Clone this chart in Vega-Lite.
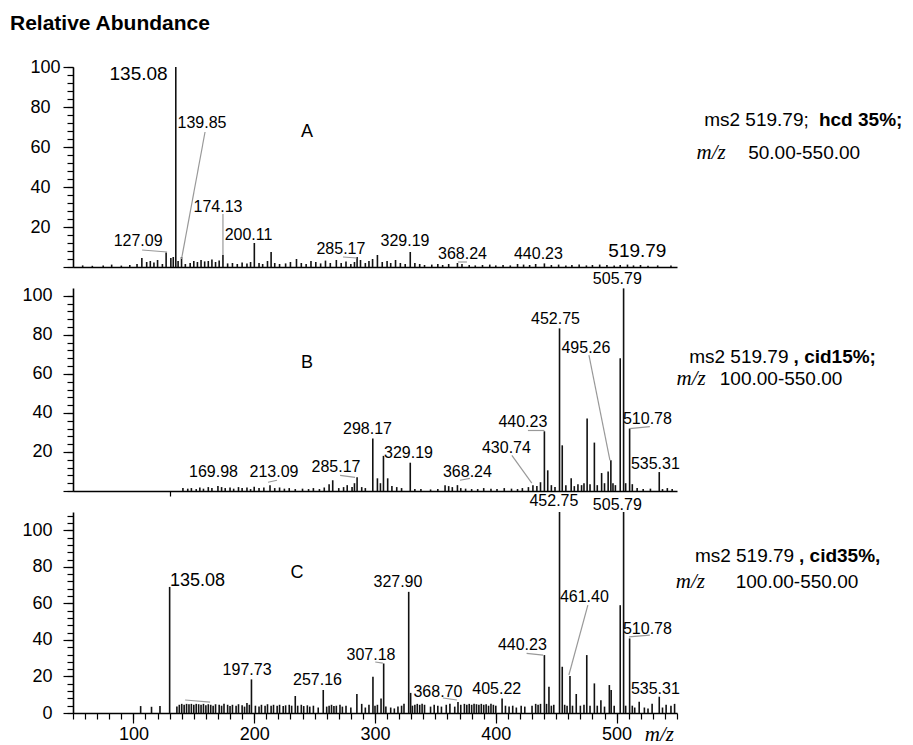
{
  "$schema": "https://vega.github.io/schema/vega-lite/v6.json",
  "autosize": {"type": "pad"},
  "padding": {"left": 10, "top": 13, "right": 5, "bottom": 0},
  "title": {"text": "Relative Abundance", "anchor": "start", "frame": "group", "dx": -63, "offset": 24, "fontSize": 21, "fontWeight": "bold", "font": "Liberation Sans", "color": "#000000"},
  "config": {
    "view": {"stroke": null},
    "font": "Liberation Sans",
    "text": {"font": "Liberation Sans", "color": "#000000"},
    "axis": {"grid": false, "labelFont": "Liberation Sans", "labelFontSize": 18, "labelColor": "#000000", "tickColor": "#000000", "domainColor": "#000000", "labelFlush": false, "labelOverlap": false, "tickWidth": 1.2, "domainWidth": 1.6, "title": null}
  },
  "bounds": "flush",
  "spacing": 21,
  "datasets": {
    "peaks": [
      {"panel":"A","mz":58,"abundance":0.8},{"panel":"A","mz":66,"abundance":0.6},{"panel":"A","mz":75,"abundance":0.8},{"panel":"A","mz":82,"abundance":1.2},{"panel":"A","mz":90,"abundance":0.7},{"panel":"A","mz":97,"abundance":1.0},{"panel":"A","mz":103,"abundance":1.5},{"panel":"A","mz":107,"abundance":4.5},{"panel":"A","mz":111,"abundance":2.5},{"panel":"A","mz":114,"abundance":3.0},{"panel":"A","mz":117,"abundance":2.2},{"panel":"A","mz":120,"abundance":3.5},{"panel":"A","mz":124,"abundance":1.5},{"panel":"A","mz":127.09,"abundance":7.3},{"panel":"A","mz":131,"abundance":4.5},{"panel":"A","mz":133,"abundance":5.0},{"panel":"A","mz":135.08,"abundance":100},{"panel":"A","mz":137,"abundance":3.0},{"panel":"A","mz":139.85,"abundance":5.0},{"panel":"A","mz":143,"abundance":1.5},{"panel":"A","mz":147,"abundance":2.0},{"panel":"A","mz":150,"abundance":3.0},{"panel":"A","mz":153,"abundance":2.5},{"panel":"A","mz":156,"abundance":3.5},{"panel":"A","mz":159,"abundance":2.8},{"panel":"A","mz":162,"abundance":3.0},{"panel":"A","mz":165,"abundance":3.8},{"panel":"A","mz":168,"abundance":2.5},{"panel":"A","mz":171,"abundance":3.2},{"panel":"A","mz":174.13,"abundance":6.0},{"panel":"A","mz":178,"abundance":1.8},{"panel":"A","mz":182,"abundance":2.0},{"panel":"A","mz":186,"abundance":1.5},{"panel":"A","mz":190,"abundance":2.2},{"panel":"A","mz":194,"abundance":1.8},{"panel":"A","mz":197,"abundance":2.5},{"panel":"A","mz":200.11,"abundance":12},{"panel":"A","mz":204,"abundance":2.0},{"panel":"A","mz":207,"abundance":1.5},{"panel":"A","mz":211,"abundance":3.0},{"panel":"A","mz":214,"abundance":7.5},{"panel":"A","mz":217,"abundance":2.0},{"panel":"A","mz":221,"abundance":1.5},{"panel":"A","mz":226,"abundance":1.8},{"panel":"A","mz":230,"abundance":2.5},{"panel":"A","mz":235,"abundance":4.0},{"panel":"A","mz":239,"abundance":2.0},{"panel":"A","mz":243,"abundance":1.5},{"panel":"A","mz":247,"abundance":3.0},{"panel":"A","mz":251,"abundance":2.5},{"panel":"A","mz":255,"abundance":1.8},{"panel":"A","mz":259,"abundance":3.2},{"panel":"A","mz":263,"abundance":2.0},{"panel":"A","mz":268,"abundance":3.5},{"panel":"A","mz":272,"abundance":2.0},{"panel":"A","mz":276,"abundance":2.8},{"panel":"A","mz":280,"abundance":1.5},{"panel":"A","mz":283,"abundance":2.5},{"panel":"A","mz":285.17,"abundance":5.0},{"panel":"A","mz":288,"abundance":3.5},{"panel":"A","mz":292,"abundance":2.0},{"panel":"A","mz":295,"abundance":3.0},{"panel":"A","mz":298,"abundance":4.0},{"panel":"A","mz":302,"abundance":6.0},{"panel":"A","mz":306,"abundance":2.5},{"panel":"A","mz":310,"abundance":3.0},{"panel":"A","mz":313,"abundance":2.0},{"panel":"A","mz":317,"abundance":3.5},{"panel":"A","mz":321,"abundance":2.0},{"panel":"A","mz":325,"abundance":1.5},{"panel":"A","mz":329.19,"abundance":7.5},{"panel":"A","mz":333,"abundance":2.0},{"panel":"A","mz":337,"abundance":1.5},{"panel":"A","mz":341,"abundance":1.0},{"panel":"A","mz":347,"abundance":1.2},{"panel":"A","mz":352,"abundance":1.5},{"panel":"A","mz":356,"abundance":1.0},{"panel":"A","mz":361,"abundance":1.5},{"panel":"A","mz":368.24,"abundance":2.0},{"panel":"A","mz":372,"abundance":1.5},{"panel":"A","mz":378,"abundance":1.0},{"panel":"A","mz":383,"abundance":0.8},{"panel":"A","mz":389,"abundance":1.0},{"panel":"A","mz":395,"abundance":1.2},{"panel":"A","mz":400,"abundance":0.8},{"panel":"A","mz":406,"abundance":1.0},{"panel":"A","mz":412,"abundance":0.8},{"panel":"A","mz":418,"abundance":1.5},{"panel":"A","mz":423,"abundance":1.2},{"panel":"A","mz":428,"abundance":1.0},{"panel":"A","mz":433,"abundance":1.5},{"panel":"A","mz":440.23,"abundance":1.8},{"panel":"A","mz":446,"abundance":1.0},{"panel":"A","mz":452,"abundance":1.2},{"panel":"A","mz":458,"abundance":0.8},{"panel":"A","mz":463,"abundance":1.0},{"panel":"A","mz":469,"abundance":1.2},{"panel":"A","mz":475,"abundance":0.8},{"panel":"A","mz":480,"abundance":1.0},{"panel":"A","mz":486,"abundance":1.2},{"panel":"A","mz":492,"abundance":1.0},{"panel":"A","mz":498,"abundance":0.8},{"panel":"A","mz":503,"abundance":1.0},{"panel":"A","mz":509,"abundance":1.2},{"panel":"A","mz":514,"abundance":0.8},{"panel":"A","mz":519.79,"abundance":1.0},{"panel":"A","mz":526,"abundance":0.6},{"panel":"A","mz":534,"abundance":0.8},{"panel":"A","mz":545,"abundance":0.7},
      {"panel":"B","mz":141,"abundance":1.5},{"panel":"B","mz":145,"abundance":1.2},{"panel":"B","mz":148,"abundance":1.5},{"panel":"B","mz":152,"abundance":1.0},{"panel":"B","mz":155,"abundance":1.8},{"panel":"B","mz":158,"abundance":1.2},{"panel":"B","mz":162,"abundance":2.0},{"panel":"B","mz":165,"abundance":1.5},{"panel":"B","mz":169.98,"abundance":2.5},{"panel":"B","mz":173,"abundance":2.0},{"panel":"B","mz":176,"abundance":1.5},{"panel":"B","mz":180,"abundance":1.8},{"panel":"B","mz":183,"abundance":1.2},{"panel":"B","mz":187,"abundance":2.0},{"panel":"B","mz":190,"abundance":1.5},{"panel":"B","mz":194,"abundance":1.8},{"panel":"B","mz":197,"abundance":1.0},{"panel":"B","mz":200,"abundance":2.2},{"panel":"B","mz":204,"abundance":1.5},{"panel":"B","mz":208,"abundance":1.8},{"panel":"B","mz":213.09,"abundance":3.0},{"panel":"B","mz":217,"abundance":1.5},{"panel":"B","mz":221,"abundance":1.8},{"panel":"B","mz":225,"abundance":1.2},{"panel":"B","mz":229,"abundance":1.5},{"panel":"B","mz":234,"abundance":1.0},{"panel":"B","mz":240,"abundance":1.2},{"panel":"B","mz":245,"abundance":1.0},{"panel":"B","mz":249,"abundance":1.5},{"panel":"B","mz":254,"abundance":1.0},{"panel":"B","mz":258,"abundance":1.8},{"panel":"B","mz":262,"abundance":3.5},{"panel":"B","mz":265,"abundance":5.5},{"panel":"B","mz":270,"abundance":1.5},{"panel":"B","mz":274,"abundance":2.0},{"panel":"B","mz":277,"abundance":3.0},{"panel":"B","mz":281,"abundance":2.0},{"panel":"B","mz":283,"abundance":4.0},{"panel":"B","mz":285.17,"abundance":7.0},{"panel":"B","mz":289,"abundance":2.0},{"panel":"B","mz":292,"abundance":1.5},{"panel":"B","mz":298.17,"abundance":26.9},{"panel":"B","mz":302,"abundance":6.5},{"panel":"B","mz":304.5,"abundance":4.0},{"panel":"B","mz":307,"abundance":18},{"panel":"B","mz":310.5,"abundance":6.5},{"panel":"B","mz":314,"abundance":2.5},{"panel":"B","mz":318,"abundance":2.0},{"panel":"B","mz":322,"abundance":1.5},{"panel":"B","mz":329.19,"abundance":14.5},{"panel":"B","mz":333,"abundance":1.0},{"panel":"B","mz":338,"abundance":1.0},{"panel":"B","mz":346,"abundance":0.8},{"panel":"B","mz":352,"abundance":1.0},{"panel":"B","mz":358,"abundance":3.0},{"panel":"B","mz":361,"abundance":2.5},{"panel":"B","mz":364,"abundance":2.0},{"panel":"B","mz":368.24,"abundance":3.0},{"panel":"B","mz":371,"abundance":1.5},{"panel":"B","mz":375,"abundance":1.2},{"panel":"B","mz":380,"abundance":1.0},{"panel":"B","mz":385,"abundance":1.0},{"panel":"B","mz":390,"abundance":1.5},{"panel":"B","mz":396,"abundance":1.2},{"panel":"B","mz":401,"abundance":1.0},{"panel":"B","mz":407,"abundance":1.5},{"panel":"B","mz":413,"abundance":1.2},{"panel":"B","mz":418,"abundance":1.0},{"panel":"B","mz":422,"abundance":1.5},{"panel":"B","mz":427,"abundance":2.0},{"panel":"B","mz":430.74,"abundance":3.0},{"panel":"B","mz":434,"abundance":2.5},{"panel":"B","mz":437,"abundance":4.5},{"panel":"B","mz":440.23,"abundance":30.6},{"panel":"B","mz":443,"abundance":10.6},{"panel":"B","mz":446,"abundance":3.0},{"panel":"B","mz":449,"abundance":2.0},{"panel":"B","mz":452.75,"abundance":83.3},{"panel":"B","mz":455,"abundance":23.4},{"panel":"B","mz":458,"abundance":3.0},{"panel":"B","mz":462.4,"abundance":6.5},{"panel":"B","mz":465,"abundance":2.5},{"panel":"B","mz":468,"abundance":3.5},{"panel":"B","mz":471,"abundance":3.0},{"panel":"B","mz":473,"abundance":4.0},{"panel":"B","mz":475.6,"abundance":37.1},{"panel":"B","mz":478,"abundance":3.5},{"panel":"B","mz":481.6,"abundance":24.8},{"panel":"B","mz":484,"abundance":3.0},{"panel":"B","mz":487.6,"abundance":9.2},{"panel":"B","mz":490,"abundance":4.0},{"panel":"B","mz":493,"abundance":10.0},{"panel":"B","mz":495.26,"abundance":15.7},{"panel":"B","mz":497,"abundance":4.0},{"panel":"B","mz":499,"abundance":3.0},{"panel":"B","mz":503,"abundance":68.0},{"panel":"B","mz":505.79,"abundance":103.8},{"panel":"B","mz":507.5,"abundance":4.0},{"panel":"B","mz":510.78,"abundance":32.0},{"panel":"B","mz":513,"abundance":3.5},{"panel":"B","mz":517,"abundance":1.5},{"panel":"B","mz":522,"abundance":1.0},{"panel":"B","mz":528,"abundance":1.2},{"panel":"B","mz":535.31,"abundance":9.7},{"panel":"B","mz":538,"abundance":1.0},{"panel":"B","mz":542,"abundance":1.5},{"panel":"B","mz":546,"abundance":1.0},
      {"panel":"C","mz":106,"abundance":3.8},{"panel":"C","mz":115,"abundance":3.4},{"panel":"C","mz":122,"abundance":3.8},{"panel":"C","mz":130,"abundance":69},{"panel":"C","mz":136,"abundance":3.5},{"panel":"C","mz":138,"abundance":4.5},{"panel":"C","mz":140,"abundance":5.0},{"panel":"C","mz":142,"abundance":4.5},{"panel":"C","mz":144,"abundance":5.0},{"panel":"C","mz":146,"abundance":4.8},{"panel":"C","mz":148,"abundance":5.0},{"panel":"C","mz":150,"abundance":4.5},{"panel":"C","mz":152,"abundance":5.0},{"panel":"C","mz":154,"abundance":4.8},{"panel":"C","mz":156,"abundance":4.5},{"panel":"C","mz":158,"abundance":5.0},{"panel":"C","mz":160,"abundance":4.2},{"panel":"C","mz":162,"abundance":4.8},{"panel":"C","mz":164,"abundance":4.5},{"panel":"C","mz":166,"abundance":4.0},{"panel":"C","mz":168,"abundance":4.8},{"panel":"C","mz":171,"abundance":4.5},{"panel":"C","mz":173,"abundance":4.0},{"panel":"C","mz":175,"abundance":5.0},{"panel":"C","mz":178,"abundance":4.5},{"panel":"C","mz":180,"abundance":3.8},{"panel":"C","mz":182,"abundance":4.5},{"panel":"C","mz":185,"abundance":4.0},{"panel":"C","mz":187,"abundance":4.8},{"panel":"C","mz":190,"abundance":4.2},{"panel":"C","mz":192,"abundance":3.5},{"panel":"C","mz":194,"abundance":5.5},{"panel":"C","mz":196,"abundance":4.5},{"panel":"C","mz":197.73,"abundance":18.4},{"panel":"C","mz":201,"abundance":4.0},{"panel":"C","mz":204,"abundance":3.5},{"panel":"C","mz":206,"abundance":4.5},{"panel":"C","mz":209,"abundance":4.0},{"panel":"C","mz":211,"abundance":4.8},{"panel":"C","mz":214,"abundance":4.0},{"panel":"C","mz":216,"abundance":4.5},{"panel":"C","mz":219,"abundance":4.0},{"panel":"C","mz":221,"abundance":4.5},{"panel":"C","mz":224,"abundance":3.8},{"panel":"C","mz":226,"abundance":4.2},{"panel":"C","mz":229,"abundance":4.5},{"panel":"C","mz":231,"abundance":4.0},{"panel":"C","mz":234,"abundance":9.3},{"panel":"C","mz":236,"abundance":4.0},{"panel":"C","mz":239,"abundance":4.5},{"panel":"C","mz":241,"abundance":3.8},{"panel":"C","mz":244,"abundance":4.2},{"panel":"C","mz":246,"abundance":3.5},{"panel":"C","mz":249,"abundance":4.0},{"panel":"C","mz":253,"abundance":3.0},{"panel":"C","mz":257.16,"abundance":12.6},{"panel":"C","mz":260,"abundance":3.5},{"panel":"C","mz":262,"abundance":4.0},{"panel":"C","mz":264,"abundance":4.5},{"panel":"C","mz":266,"abundance":3.8},{"panel":"C","mz":268,"abundance":4.0},{"panel":"C","mz":271,"abundance":4.5},{"panel":"C","mz":273,"abundance":3.5},{"panel":"C","mz":276,"abundance":4.0},{"panel":"C","mz":280,"abundance":3.0},{"panel":"C","mz":285,"abundance":10.4},{"panel":"C","mz":289,"abundance":5.0},{"panel":"C","mz":292,"abundance":3.0},{"panel":"C","mz":295,"abundance":4.5},{"panel":"C","mz":298.3,"abundance":19.8},{"panel":"C","mz":300,"abundance":4.0},{"panel":"C","mz":302,"abundance":4.5},{"panel":"C","mz":305,"abundance":8.0},{"panel":"C","mz":307.18,"abundance":27.1},{"panel":"C","mz":309,"abundance":3.5},{"panel":"C","mz":313,"abundance":3.0},{"panel":"C","mz":316,"abundance":2.5},{"panel":"C","mz":319,"abundance":3.5},{"panel":"C","mz":322,"abundance":4.0},{"panel":"C","mz":324,"abundance":5.0},{"panel":"C","mz":327.9,"abundance":66.3},{"panel":"C","mz":329.5,"abundance":11},{"panel":"C","mz":331,"abundance":4.0},{"panel":"C","mz":333,"abundance":4.5},{"panel":"C","mz":335,"abundance":5.0},{"panel":"C","mz":337,"abundance":4.5},{"panel":"C","mz":339,"abundance":5.0},{"panel":"C","mz":341,"abundance":4.5},{"panel":"C","mz":346,"abundance":3.5},{"panel":"C","mz":349,"abundance":4.5},{"panel":"C","mz":352,"abundance":4.0},{"panel":"C","mz":355,"abundance":3.5},{"panel":"C","mz":359,"abundance":4.5},{"panel":"C","mz":362,"abundance":5.0},{"panel":"C","mz":366,"abundance":3.5},{"panel":"C","mz":368.7,"abundance":6.0},{"panel":"C","mz":371,"abundance":4.5},{"panel":"C","mz":374,"abundance":5.0},{"panel":"C","mz":376,"abundance":4.5},{"panel":"C","mz":378,"abundance":5.0},{"panel":"C","mz":380,"abundance":4.5},{"panel":"C","mz":382,"abundance":5.0},{"panel":"C","mz":384,"abundance":4.8},{"panel":"C","mz":386,"abundance":4.5},{"panel":"C","mz":388,"abundance":5.0},{"panel":"C","mz":390,"abundance":4.5},{"panel":"C","mz":392,"abundance":4.8},{"panel":"C","mz":394,"abundance":4.0},{"panel":"C","mz":396,"abundance":5.0},{"panel":"C","mz":398,"abundance":4.5},{"panel":"C","mz":400,"abundance":4.0},{"panel":"C","mz":405.22,"abundance":8.0},{"panel":"C","mz":408,"abundance":4.0},{"panel":"C","mz":411,"abundance":3.5},{"panel":"C","mz":414,"abundance":4.0},{"panel":"C","mz":417,"abundance":3.0},{"panel":"C","mz":421,"abundance":4.0},{"panel":"C","mz":424,"abundance":3.5},{"panel":"C","mz":430,"abundance":4.0},{"panel":"C","mz":433,"abundance":5.0},{"panel":"C","mz":435,"abundance":4.5},{"panel":"C","mz":437,"abundance":5.0},{"panel":"C","mz":440.23,"abundance":31.7},{"panel":"C","mz":442,"abundance":5.0},{"panel":"C","mz":444,"abundance":14.4},{"panel":"C","mz":446,"abundance":4.0},{"panel":"C","mz":448,"abundance":4.5},{"panel":"C","mz":452.75,"abundance":110},{"panel":"C","mz":455,"abundance":25.3},{"panel":"C","mz":457,"abundance":4.5},{"panel":"C","mz":459,"abundance":4.0},{"panel":"C","mz":461.4,"abundance":20.2},{"panel":"C","mz":463.5,"abundance":4.0},{"panel":"C","mz":466.6,"abundance":10.4},{"panel":"C","mz":470,"abundance":4.0},{"panel":"C","mz":473,"abundance":4.5},{"panel":"C","mz":475.3,"abundance":31.7},{"panel":"C","mz":478,"abundance":4.0},{"panel":"C","mz":481.6,"abundance":16.2},{"panel":"C","mz":484,"abundance":4.0},{"panel":"C","mz":487,"abundance":7.0},{"panel":"C","mz":490,"abundance":3.5},{"panel":"C","mz":494,"abundance":15.3},{"panel":"C","mz":495.5,"abundance":12.6},{"panel":"C","mz":498,"abundance":4.0},{"panel":"C","mz":503,"abundance":59},{"panel":"C","mz":505.79,"abundance":110},{"panel":"C","mz":507.5,"abundance":4.0},{"panel":"C","mz":510.78,"abundance":40.8},{"panel":"C","mz":513,"abundance":4.0},{"panel":"C","mz":515,"abundance":3.0},{"panel":"C","mz":518.7,"abundance":6.2},{"panel":"C","mz":523,"abundance":3.0},{"panel":"C","mz":526,"abundance":2.5},{"panel":"C","mz":529.4,"abundance":5.0},{"panel":"C","mz":535.31,"abundance":8.9},{"panel":"C","mz":538,"abundance":3.0},{"panel":"C","mz":541,"abundance":4.5},{"panel":"C","mz":545,"abundance":4.0},{"panel":"C","mz":548,"abundance":5.0}
    ],
    "labels": [
      {"panel":"A","text":"135.08","lx":104.3,"ly":96.5},{"panel":"A","text":"139.85","lx":156.8,"ly":72},{"panel":"A","text":"174.13","lx":170,"ly":30},{"panel":"A","text":"127.09","lx":103.9,"ly":13},{"panel":"A","text":"200.11","lx":195.3,"ly":16},{"panel":"A","text":"285.17","lx":271.8,"ly":9},{"panel":"A","text":"329.19","lx":324.8,"ly":13},{"panel":"A","text":"368.24","lx":372.4,"ly":6.5},{"panel":"A","text":"440.23","lx":435.3,"ly":6.5},{"panel":"A","text":"519.79","lx":517.2,"ly":8},
      {"panel":"B","text":"298.17","lx":293.8,"ly":32},{"panel":"B","text":"329.19","lx":327.7,"ly":19.3},{"panel":"B","text":"285.17","lx":267.7,"ly":12.2},{"panel":"B","text":"213.09","lx":216.4,"ly":9.6},{"panel":"B","text":"169.98","lx":166.3,"ly":9.6},{"panel":"B","text":"368.24","lx":376.5,"ly":9.8},{"panel":"B","text":"430.74","lx":408.8,"ly":22.2},{"panel":"B","text":"440.23","lx":422.4,"ly":35.2},{"panel":"B","text":"452.75","lx":449.4,"ly":88},{"panel":"B","text":"495.26","lx":474.6,"ly":73.4},{"panel":"B","text":"505.79","lx":500.6,"ly":108.6},{"panel":"B","text":"510.78","lx":525.5,"ly":37},{"panel":"B","text":"535.31","lx":532.1,"ly":14},
      {"panel":"C","text":"135.08","lx":153.1,"ly":72.4},{"panel":"C","text":"197.73","lx":194.1,"ly":23.5},{"panel":"C","text":"257.16","lx":252.4,"ly":18},{"panel":"C","text":"307.18","lx":296.7,"ly":31.7},{"panel":"C","text":"327.90","lx":319,"ly":71.9},{"panel":"C","text":"368.70","lx":352.1,"ly":11.7},{"panel":"C","text":"405.22","lx":400.8,"ly":13.1},{"panel":"C","text":"440.23","lx":422,"ly":37.2},{"panel":"C","text":"452.75","lx":448.1,"ly":115.8},{"panel":"C","text":"461.40","lx":473.3,"ly":63.7},{"panel":"C","text":"505.79","lx":500.6,"ly":113.7},{"panel":"C","text":"510.78","lx":525.5,"ly":46.2},{"panel":"C","text":"535.31","lx":532.1,"ly":13.4}
    ],
    "leaders": [
      {"panel":"A","x1":159.3,"y1":67.5,"x2":139.85,"y2":4},{"panel":"A","x1":174.13,"y1":6,"x2":174.13,"y2":26.5},{"panel":"A","x1":107.2,"y1":8.5,"x2":127.9,"y2":7.5},{"panel":"A","x1":273.5,"y1":5,"x2":285.1,"y2":4.5},{"panel":"A","x1":368.6,"y1":2.5,"x2":376.1,"y2":2.5},
      {"panel":"B","x1":271.1,"y1":8,"x2":283.5,"y2":7},{"panel":"B","x1":211.4,"y1":4.5,"x2":218.9,"y2":5.5},{"panel":"B","x1":370.3,"y1":5.5,"x2":378.6,"y2":6.5},{"panel":"B","x1":413.3,"y1":18.3,"x2":429.8,"y2":4},{"panel":"B","x1":426.6,"y1":31,"x2":440.23,"y2":31},{"panel":"B","x1":477.1,"y1":69.6,"x2":494.5,"y2":15.7},{"panel":"B","x1":510.78,"y1":32,"x2":527.5,"y2":33},
      {"panel":"C","x1":142.8,"y1":7.1,"x2":163.5,"y2":6},{"panel":"C","x1":300.2,"y1":27.9,"x2":306.5,"y2":27.3},{"panel":"C","x1":356.2,"y1":8.2,"x2":367.8,"y2":7.1},{"panel":"C","x1":425.5,"y1":32.6,"x2":439.2,"y2":31.7},{"panel":"C","x1":476.2,"y1":59,"x2":460.5,"y2":20.8},{"panel":"C","x1":510.2,"y1":41.7,"x2":527.5,"y2":42.6}
    ],
    "notes": [
      {"panel":"A","part":"letter","text":"A","nx":243.7,"ny":67.5},
      {"panel":"A","part":"scan","text":"ms2 519.79;","nx":572.5,"ny":70.5},
      {"panel":"A","part":"energy","text":"hcd 35%;","nx":667.5,"ny":70.5},
      {"panel":"A","part":"unit","text":"m/z","nx":566.2,"ny":53.9},
      {"panel":"A","part":"range","text":"50.00-550.00","nx":608.9,"ny":53.9},
      {"panel":"B","part":"letter","text":"B","nx":243.7,"ny":65.5},
      {"panel":"B","part":"scan","text":"ms2 519.79","nx":560.1,"ny":65.6},
      {"panel":"B","part":"energy","text":", cid15%;","nx":646.5,"ny":65.6},
      {"panel":"B","part":"unit","text":"m/z","nx":549.6,"ny":54.4},
      {"panel":"B","part":"range","text":"100.00-550.00","nx":585.4,"ny":54.4},
      {"panel":"C","part":"letter","text":"C","nx":235.4,"ny":76.5},
      {"panel":"C","part":"scan","text":"ms2 519.79","nx":564.8,"ny":82.7},
      {"panel":"C","part":"energy","text":", cid35%,","nx":651,"ny":82.7},
      {"panel":"C","part":"unit","text":"m/z","nx":549.0,"ny":68.4},
      {"panel":"C","part":"range","text":"100.00-550.00","nx":598.6,"ny":68.4},
      {"panel":"C","part":"unit","text":"m/z","nx":523.3,"ny":-15.5}
    ]
  },
  "vconcat": [
    {
      "width": 604, "height": 200,
      "resolve": {"axis": {"x": "independent", "y": "independent"}},
      "layer": [
        {"data": {"name": "peaks"}, "transform": [{"filter": "datum.panel === 'A'"}],
         "mark": {"type": "rule", "color": "#111111", "strokeWidth": 1.6},
         "encoding": {
           "x": {"field": "mz", "type": "quantitative", "scale": {"domain": [50, 550], "nice": false}, "axis": {"orient": "bottom", "labels": false, "ticks": false, "domain": true}},
           "y": {"field": "abundance", "type": "quantitative", "scale": {"domain": [0, 100], "nice": false}, "axis": {"orient": "left", "values": [0,4,8,12,16,20,24,28,32,36,40,44,48,52,56,60,64,68,72,76,80,84,88,92,96,100], "labels": false, "tickSize": 6, "domain": true}},
           "y2": {"datum": 0}}},
        {"data": {"name": "labels"}, "transform": [{"filter": "datum.panel === 'A'"}],
         "mark": {"type": "text", "align": "center", "baseline": "middle"},
         "encoding": {
           "x": {"field": "lx", "type": "quantitative", "scale": {"domain": [50, 550], "nice": false}, "axis": null},
           "y": {"field": "ly", "type": "quantitative", "scale": {"domain": [0, 100], "nice": false}, "axis": {"orient": "left", "values": [0,20,40,60,80,100], "tickSize": 10, "labelPadding": 33, "labelAlign": "left", "labelExpr": "datum.value === 0 ? '' : datum.label", "domain": false}},
           "text": {"field": "text"},
           "size": {"condition": {"test": "datum.text === '135.08' || datum.text === '519.79'", "value": 19}, "value": 16}}},
        {"data": {"name": "leaders"}, "transform": [{"filter": "datum.panel === 'A'"}],
         "mark": {"type": "rule", "color": "#999999", "strokeWidth": 1.2},
         "encoding": {
           "x": {"field": "x1", "type": "quantitative", "scale": {"domain": [50, 550], "nice": false}, "axis": null},
           "x2": {"field": "x2"},
           "y": {"field": "y1", "type": "quantitative", "scale": {"domain": [0, 100], "nice": false}, "axis": null},
           "y2": {"field": "y2"}}},
        {"data": {"name": "notes"}, "transform": [{"filter": "datum.panel === 'A' && (datum.part === 'scan' || datum.part === 'range')"}],
         "mark": {"type": "text", "align": "left", "baseline": "alphabetic", "fontSize": 19},
         "encoding": {
           "x": {"field": "nx", "type": "quantitative", "scale": {"domain": [50, 550], "nice": false}, "axis": null},
           "y": {"field": "ny", "type": "quantitative", "scale": {"domain": [0, 100], "nice": false}, "axis": null},
           "text": {"field": "text"}}},
        {"data": {"name": "notes"}, "transform": [{"filter": "datum.panel === 'A' && datum.part === 'energy'"}],
         "mark": {"type": "text", "align": "left", "baseline": "alphabetic", "fontSize": 19, "fontWeight": "bold"},
         "encoding": {
           "x": {"field": "nx", "type": "quantitative", "scale": {"domain": [50, 550], "nice": false}, "axis": null},
           "y": {"field": "ny", "type": "quantitative", "scale": {"domain": [0, 100], "nice": false}, "axis": null},
           "text": {"field": "text"}}},
        {"data": {"name": "notes"}, "transform": [{"filter": "datum.panel === 'A' && datum.part === 'unit'"}],
         "mark": {"type": "text", "align": "left", "baseline": "alphabetic", "fontSize": 21, "fontStyle": "italic", "font": "Liberation Serif"},
         "encoding": {
           "x": {"field": "nx", "type": "quantitative", "scale": {"domain": [50, 550], "nice": false}, "axis": null},
           "y": {"field": "ny", "type": "quantitative", "scale": {"domain": [0, 100], "nice": false}, "axis": null},
           "text": {"field": "text"}}},
        {"data": {"name": "notes"}, "transform": [{"filter": "datum.panel === 'A' && datum.part === 'letter'"}],
         "mark": {"type": "text", "align": "center", "baseline": "middle", "fontSize": 18},
         "encoding": {
           "x": {"field": "nx", "type": "quantitative", "scale": {"domain": [50, 550], "nice": false}, "axis": null},
           "y": {"field": "ny", "type": "quantitative", "scale": {"domain": [0, 100], "nice": false}, "axis": null},
           "text": {"field": "text"}}}
      ]
    },
    {
      "width": 604, "height": 203,
      "resolve": {"axis": {"x": "independent", "y": "independent"}},
      "layer": [
        {"data": {"name": "peaks"}, "transform": [{"filter": "datum.panel === 'B'"}],
         "mark": {"type": "rule", "color": "#111111", "strokeWidth": 1.6},
         "encoding": {
           "x": {"field": "mz", "type": "quantitative", "scale": {"domain": [50, 550], "nice": false}, "axis": {"orient": "bottom", "values": [130], "labels": false, "ticks": true, "tickSize": 5, "domain": true}},
           "y": {"field": "abundance", "type": "quantitative", "scale": {"domain": [0, 104], "nice": false}, "axis": {"orient": "left", "values": [0,4,8,12,16,20,24,28,32,36,40,44,48,52,56,60,64,68,72,76,80,84,88,92,96,100], "labels": false, "tickSize": 6, "domain": true}},
           "y2": {"datum": 0}}},
        {"data": {"name": "labels"}, "transform": [{"filter": "datum.panel === 'B'"}],
         "mark": {"type": "text", "align": "center", "baseline": "middle", "fontSize": 16},
         "encoding": {
           "x": {"field": "lx", "type": "quantitative", "scale": {"domain": [50, 550], "nice": false}, "axis": null},
           "y": {"field": "ly", "type": "quantitative", "scale": {"domain": [0, 104], "nice": false}, "axis": {"orient": "left", "values": [0,20,40,60,80,100], "tickSize": 10, "labelPadding": 11, "labelExpr": "datum.value === 0 ? '' : datum.label", "domain": false}},
           "text": {"field": "text"}}},
        {"data": {"name": "leaders"}, "transform": [{"filter": "datum.panel === 'B'"}],
         "mark": {"type": "rule", "color": "#999999", "strokeWidth": 1.2},
         "encoding": {
           "x": {"field": "x1", "type": "quantitative", "scale": {"domain": [50, 550], "nice": false}, "axis": null},
           "x2": {"field": "x2"},
           "y": {"field": "y1", "type": "quantitative", "scale": {"domain": [0, 104], "nice": false}, "axis": null},
           "y2": {"field": "y2"}}},
        {"data": {"name": "notes"}, "transform": [{"filter": "datum.panel === 'B' && (datum.part === 'scan' || datum.part === 'range')"}],
         "mark": {"type": "text", "align": "left", "baseline": "alphabetic", "fontSize": 19},
         "encoding": {
           "x": {"field": "nx", "type": "quantitative", "scale": {"domain": [50, 550], "nice": false}, "axis": null},
           "y": {"field": "ny", "type": "quantitative", "scale": {"domain": [0, 104], "nice": false}, "axis": null},
           "text": {"field": "text"}}},
        {"data": {"name": "notes"}, "transform": [{"filter": "datum.panel === 'B' && datum.part === 'energy'"}],
         "mark": {"type": "text", "align": "left", "baseline": "alphabetic", "fontSize": 19, "fontWeight": "bold"},
         "encoding": {
           "x": {"field": "nx", "type": "quantitative", "scale": {"domain": [50, 550], "nice": false}, "axis": null},
           "y": {"field": "ny", "type": "quantitative", "scale": {"domain": [0, 104], "nice": false}, "axis": null},
           "text": {"field": "text"}}},
        {"data": {"name": "notes"}, "transform": [{"filter": "datum.panel === 'B' && datum.part === 'unit'"}],
         "mark": {"type": "text", "align": "left", "baseline": "alphabetic", "fontSize": 21, "fontStyle": "italic", "font": "Liberation Serif"},
         "encoding": {
           "x": {"field": "nx", "type": "quantitative", "scale": {"domain": [50, 550], "nice": false}, "axis": null},
           "y": {"field": "ny", "type": "quantitative", "scale": {"domain": [0, 104], "nice": false}, "axis": null},
           "text": {"field": "text"}}},
        {"data": {"name": "notes"}, "transform": [{"filter": "datum.panel === 'B' && datum.part === 'letter'"}],
         "mark": {"type": "text", "align": "center", "baseline": "middle", "fontSize": 18},
         "encoding": {
           "x": {"field": "nx", "type": "quantitative", "scale": {"domain": [50, 550], "nice": false}, "axis": null},
           "y": {"field": "ny", "type": "quantitative", "scale": {"domain": [0, 104], "nice": false}, "axis": null},
           "text": {"field": "text"}}}
      ]
    },
    {
      "width": 604, "height": 201,
      "resolve": {"axis": {"x": "independent", "y": "independent"}},
      "layer": [
        {"data": {"name": "peaks"}, "transform": [{"filter": "datum.panel === 'C'"}],
         "mark": {"type": "rule", "color": "#111111", "strokeWidth": 1.6},
         "encoding": {
           "x": {"field": "mz", "type": "quantitative", "scale": {"domain": [50, 550], "nice": false}, "axis": {"orient": "bottom", "values": [50,60,70,80,90,100,110,120,130,140,150,160,170,180,190,200,210,220,230,240,250,260,270,280,290,300,310,320,330,340,350,360,370,380,390,400,410,420,430,440,450,460,470,480,490,500,510,520,530,540,550], "labels": false, "tickSize": 6, "domain": true}},
           "y": {"field": "abundance", "type": "quantitative", "scale": {"domain": [0, 110], "nice": false}, "axis": {"orient": "left", "values": [0,4,8,12,16,20,24,28,32,36,40,44,48,52,56,60,64,68,72,76,80,84,88,92,96,100,104,108], "labels": false, "tickSize": 6, "domain": true}},
           "y2": {"datum": 0}}},
        {"data": {"name": "labels"}, "transform": [{"filter": "datum.panel === 'C'"}],
         "mark": {"type": "text", "align": "center", "baseline": "middle"},
         "encoding": {
           "x": {"field": "lx", "type": "quantitative", "scale": {"domain": [50, 550], "nice": false}, "axis": {"orient": "bottom", "values": [100,200,300,400,500], "tickSize": 10, "labelPadding": 2, "domain": false}},
           "y": {"field": "ly", "type": "quantitative", "scale": {"domain": [0, 110], "nice": false}, "axis": {"orient": "left", "values": [0,20,40,60,80,100], "tickSize": 10, "labelPadding": 11, "domain": false}},
           "text": {"field": "text"},
           "size": {"condition": {"test": "datum.text === '135.08'", "value": 18}, "value": 16}}},
        {"data": {"name": "leaders"}, "transform": [{"filter": "datum.panel === 'C'"}],
         "mark": {"type": "rule", "color": "#999999", "strokeWidth": 1.2},
         "encoding": {
           "x": {"field": "x1", "type": "quantitative", "scale": {"domain": [50, 550], "nice": false}, "axis": null},
           "x2": {"field": "x2"},
           "y": {"field": "y1", "type": "quantitative", "scale": {"domain": [0, 110], "nice": false}, "axis": null},
           "y2": {"field": "y2"}}},
        {"data": {"name": "notes"}, "transform": [{"filter": "datum.panel === 'C' && (datum.part === 'scan' || datum.part === 'range')"}],
         "mark": {"type": "text", "align": "left", "baseline": "alphabetic", "fontSize": 19},
         "encoding": {
           "x": {"field": "nx", "type": "quantitative", "scale": {"domain": [50, 550], "nice": false}, "axis": null},
           "y": {"field": "ny", "type": "quantitative", "scale": {"domain": [0, 110], "nice": false}, "axis": null},
           "text": {"field": "text"}}},
        {"data": {"name": "notes"}, "transform": [{"filter": "datum.panel === 'C' && datum.part === 'energy'"}],
         "mark": {"type": "text", "align": "left", "baseline": "alphabetic", "fontSize": 19, "fontWeight": "bold"},
         "encoding": {
           "x": {"field": "nx", "type": "quantitative", "scale": {"domain": [50, 550], "nice": false}, "axis": null},
           "y": {"field": "ny", "type": "quantitative", "scale": {"domain": [0, 110], "nice": false}, "axis": null},
           "text": {"field": "text"}}},
        {"data": {"name": "notes"}, "transform": [{"filter": "datum.panel === 'C' && datum.part === 'unit'"}],
         "mark": {"type": "text", "align": "left", "baseline": "alphabetic", "fontSize": 21, "fontStyle": "italic", "font": "Liberation Serif"},
         "encoding": {
           "x": {"field": "nx", "type": "quantitative", "scale": {"domain": [50, 550], "nice": false}, "axis": null},
           "y": {"field": "ny", "type": "quantitative", "scale": {"domain": [0, 110], "nice": false}, "axis": null},
           "text": {"field": "text"}}},
        {"data": {"name": "notes"}, "transform": [{"filter": "datum.panel === 'C' && datum.part === 'letter'"}],
         "mark": {"type": "text", "align": "center", "baseline": "middle", "fontSize": 18},
         "encoding": {
           "x": {"field": "nx", "type": "quantitative", "scale": {"domain": [50, 550], "nice": false}, "axis": null},
           "y": {"field": "ny", "type": "quantitative", "scale": {"domain": [0, 110], "nice": false}, "axis": null},
           "text": {"field": "text"}}}
      ]
    }
  ]
}
